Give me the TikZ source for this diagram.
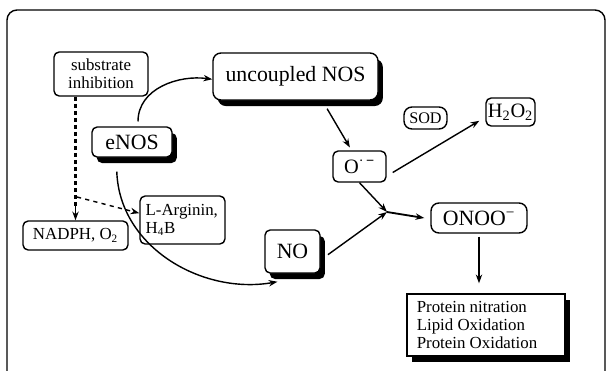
\documentclass[tikz,border=0pt]{standalone}
\usepackage{fontspec}
\setmainfont{Liberation Serif}
\usetikzlibrary{arrows.meta,shadows}

\tikzset{
  rbox/.style={draw,line width=1pt,rounded corners=0.13cm,inner sep=0pt,align=center,fill=white},
  shbox/.style={rbox,drop shadow={shadow xshift=0.12cm,shadow yshift=-0.15cm,opacity=1,fill=black}},
  arr/.style={line width=1pt,-{Stealth[length=0.22cm,width=0.16cm]}},
  big/.style={font=\fontsize{15.5}{18}\selectfont},
  small/.style={font=\fontsize{12}{13}\selectfont}
}

\begin{document}
\begin{tikzpicture}[x=0.025cm,y=-0.025cm]
		\clip (0,0) rectangle (606,370);
		% frame
		\draw[line width=1pt,rounded corners=0.25cm] (7,10) rectangle (605,420);

		\node[rbox,small,minimum width=2.35cm,minimum height=1.1cm] (sub) at (101,74) {substrate\\inhibition};
		\node[shbox,big,rounded corners=0.2cm,minimum width=4.125cm,minimum height=1.175cm] (unc) at (295.5,76.5) {uncoupled NOS};
		\node[shbox,big,minimum width=2cm,minimum height=0.75cm] (enos) at (132,142) {eNOS};
		\node[rbox,small,minimum width=2.625cm,minimum height=0.725cm] (nadph) at (75.5,235.5) {NADPH, O\textsubscript{2}};
		\node[rbox,small,align=left,minimum width=2.125cm,minimum height=1.2cm] (larg) at (182.5,220) {L-Arginin,\\H\textsubscript{4}B\hspace*{1.1cm}};
		\node[shbox,big,minimum width=1.375cm,minimum height=1.075cm] (no) at (292.5,251.5) {NO};
		\node[rbox,font=\fontsize{14.5}{16}\selectfont,minimum width=1.325cm,minimum height=0.775cm] (osup) at (359.5,166.5) {O\textsuperscript{·\,\textbf{−}}};
		\node[rbox,font=\fontsize{11.5}{13}\selectfont,rounded corners=0.2cm,minimum width=1.075cm,minimum height=0.55cm] (sod) at (425.5,118) {SOD};
		\node[rbox,font=\fontsize{14.5}{16}\selectfont,minimum width=1.225cm,minimum height=0.7cm] (hoo) at (510.5,112) {H\textsubscript{2}O\textsubscript{2}};
		\node[rbox,big,rounded corners=0.2cm,minimum width=2.4cm,minimum height=0.75cm] (onoo) at (479,218) {ONOO\textsuperscript{−}};
		\node[shbox,small,rounded corners=0pt,align=left,minimum width=3.95cm,minimum height=1.55cm] (prot) at (486,325) {Protein nitration\\Lipid Oxidation\\Protein Oxidation\hspace*{0.45cm}};

		\coordinate (split) at (77,197);
		\coordinate (join) at (387,212);

		% inhibition
		\draw[line width=1.8pt,dash pattern=on 3pt off 2pt] (sub.south -| nadph.north) -- ([yshift=0.3cm]nadph.north);
		\draw[line width=1pt,-{Stealth[length=0.22cm,width=0.16cm]}] ([yshift=0.35cm]nadph.north) -- (nadph.north);
		\draw[line width=1pt,dashed,-{Stealth[length=0.22cm,width=0.16cm]}] (split) -- ([yshift=0.17cm]larg.west);

		% pathways
		\draw[arr] ([xshift=0.15cm,yshift=0.12cm]enos.north) to[out=90,in=172] ([yshift=-0.07cm]unc.west);
		\draw[arr] ([xshift=-0.38cm,yshift=-0.35cm]enos.south) to[out=-88,in=190] ([xshift=0.33cm,yshift=-0.2cm]no.south west);
		\draw[arr] ([xshift=0.79cm,yshift=-0.2cm]unc.south) -- ([xshift=-0.24cm,yshift=0.07cm]osup.north);
		\draw[arr] ([xshift=0.15cm,yshift=-0.15cm]osup.east) -- ([xshift=-0.15cm,yshift=-0.22cm]hoo.west);
		\draw[arr] (osup.south) -- (join);
		\draw[arr] ([xshift=0.18cm,yshift=-0.08cm]no.east) -- (join);
		\draw[arr,line width=1.3pt] (join) -- ([xshift=-0.15cm]onoo.west);
		\draw[arr] ([yshift=-0.07cm]onoo.south) -- ([yshift=0.25cm]onoo.south |- prot.north);
	\end{tikzpicture}
\end{document}
